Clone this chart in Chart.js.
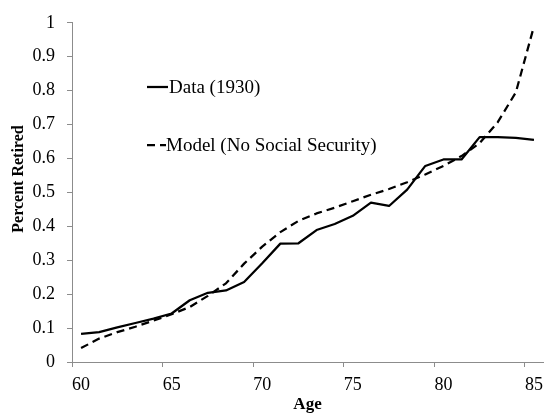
<!DOCTYPE html>
<html>
<head>
<meta charset="utf-8">
<script src="https://cdn.jsdelivr.net/npm/chart.js@4.4.1/dist/chart.umd.min.js"></script>
<style>
  html, body { margin: 0; padding: 0; background: #ffffff; }
  #wrap { width: 550px; height: 416px; }
</style>
</head>
<body>
<div id="wrap"><canvas id="chart" width="550" height="416"></canvas></div>
<script>
// Age categories on the horizontal axis
const ages = ['60','61','62','63','64','65','66','67','68','69','70','71','72',
              '73','74','75','76','77','78','79','80','81','82','83','84','85'];

// Share of men retired at each age, 1930 census
const dataRetired = [0.083, 0.088, 0.102, 0.115, 0.128, 0.143, 0.182, 0.204, 0.211, 0.236,
                     0.291, 0.349, 0.350, 0.389, 0.407, 0.431, 0.470, 0.460, 0.508, 0.578,
                     0.597, 0.597, 0.663, 0.663, 0.661, 0.655];

// Model prediction without Social Security
const modelRetired = [0.041, 0.069, 0.088, 0.104, 0.122, 0.141, 0.162, 0.195, 0.232, 0.290,
                      0.340, 0.383, 0.416, 0.438, 0.455, 0.474, 0.493, 0.510, 0.530, 0.553,
                      0.578, 0.607, 0.645, 0.707, 0.795, 0.990];

// Labelled ages and value ticks
const xTickLabels = ['60','65','70','75','80','85'];
const yTickValues = [0, 0.1, 0.2, 0.3, 0.4, 0.5, 0.6, 0.7, 0.8, 0.9, 1];
const yTitle = 'Percent Retired';

const AXIS_GRAY = '#8c8c8c';
const SERIF = '"Liberation Serif", "Times New Roman", serif';

// Legend drawn inside the plot area, to the left
const insetLegend = {
  id: 'insetLegend',
  afterDatasetsDraw(chart) {
    const { ctx, chartArea } = chart;
    const x0 = chartArea.left + 75;
    const rows = [
      { y: 87, sampleEnd: 21, textX: 97 },
      { y: 145, sampleEnd: 19, textX: 94 }
    ];
    chart.data.datasets.forEach((ds, i) => {
      const r = rows[i];
      ctx.save();
      ctx.strokeStyle = ds.borderColor;
      ctx.lineWidth = ds.borderWidth;
      ctx.setLineDash(ds.borderDash || []);
      ctx.beginPath();
      ctx.moveTo(x0, r.y);
      ctx.lineTo(x0 + r.sampleEnd, r.y);
      ctx.stroke();
      ctx.setLineDash([]);
      ctx.fillStyle = '#000000';
      ctx.font = '19px ' + SERIF;
      ctx.textAlign = 'left';
      ctx.textBaseline = 'middle';
      ctx.fillText(ds.label, chartArea.left + r.textX, r.y + 1);
      ctx.restore();
    });
  }
};

// Vertical axis title, set a little above the middle of the axis
const sideTitle = {
  id: 'sideTitle',
  afterDraw(chart) {
    const { ctx } = chart;
    ctx.save();
    ctx.translate(19, 179);
    ctx.rotate(-Math.PI / 2);
    ctx.fillStyle = '#000000';
    ctx.font = 'bold 16px ' + SERIF;
    ctx.textAlign = 'center';
    ctx.textBaseline = 'middle';
    ctx.fillText(yTitle, 0, 0);
    ctx.restore();
  }
};

new Chart(document.getElementById('chart'), {
  type: 'line',
  data: {
    labels: ages,
    datasets: [
      {
        label: 'Data (1930)',
        data: dataRetired,
        borderColor: '#000000',
        borderWidth: 2.25,
        pointRadius: 0,
        tension: 0,
        borderJoinStyle: 'round',
        fill: false
      },
      {
        label: 'Model (No Social Security)',
        data: modelRetired,
        borderColor: '#000000',
        borderWidth: 2.25,
        borderDash: [8, 5],
        pointRadius: 0,
        tension: 0,
        borderJoinStyle: 'round',
        fill: false
      }
    ]
  },
  options: {
    responsive: false,
    animation: false,
    devicePixelRatio: 1,
    layout: { padding: { top: 17, right: 1, bottom: 0, left: 0 } },
    plugins: {
      legend: { display: false },
      tooltip: { enabled: false }
    },
    scales: {
      x: {
        type: 'category',
        offset: true,
        afterFit(scale) { scale.height = 54; },
        grid: {
          offset: true,
          drawOnChartArea: false,
          drawTicks: true,
          tickLength: 5,
          color: (c) => (c.index !== undefined && c.index % 5 === 0) ? AXIS_GRAY : 'rgba(0,0,0,0)',
          lineWidth: 1
        },
        border: { display: true, color: AXIS_GRAY, width: 1 },
        ticks: {
          autoSkip: false,
          maxRotation: 0,
          minRotation: 0,
          padding: 7,
          color: '#000000',
          font: { family: SERIF, size: 18 },
          callback(value, index) {
            const lab = ages[index];
            return xTickLabels.includes(lab) ? lab : '';
          }
        },
        title: {
          display: true,
          text: 'Age',
          color: '#000000',
          font: { family: SERIF, size: 17, weight: 'bold', lineHeight: 1.2 },
          padding: { top: 0, bottom: 1 }
        }
      },
      y: {
        min: 0,
        max: 1,
        afterFit(scale) { scale.width = 72; },
        afterBuildTicks(scale) {
          scale.ticks = yTickValues.map(v => ({ value: v }));
        },
        grid: {
          drawOnChartArea: false,
          drawTicks: true,
          tickLength: 5,
          color: AXIS_GRAY,
          lineWidth: 1
        },
        border: { display: true, color: AXIS_GRAY, width: 1 },
        ticks: {
          padding: 12,
          color: '#000000',
          font: { family: SERIF, size: 18 },
          callback(value) { return String(Number(value.toFixed(1))); }
        },
        title: { display: false }
      }
    }
  },
  plugins: [insetLegend, sideTitle]
});
</script>
</body>
</html>
